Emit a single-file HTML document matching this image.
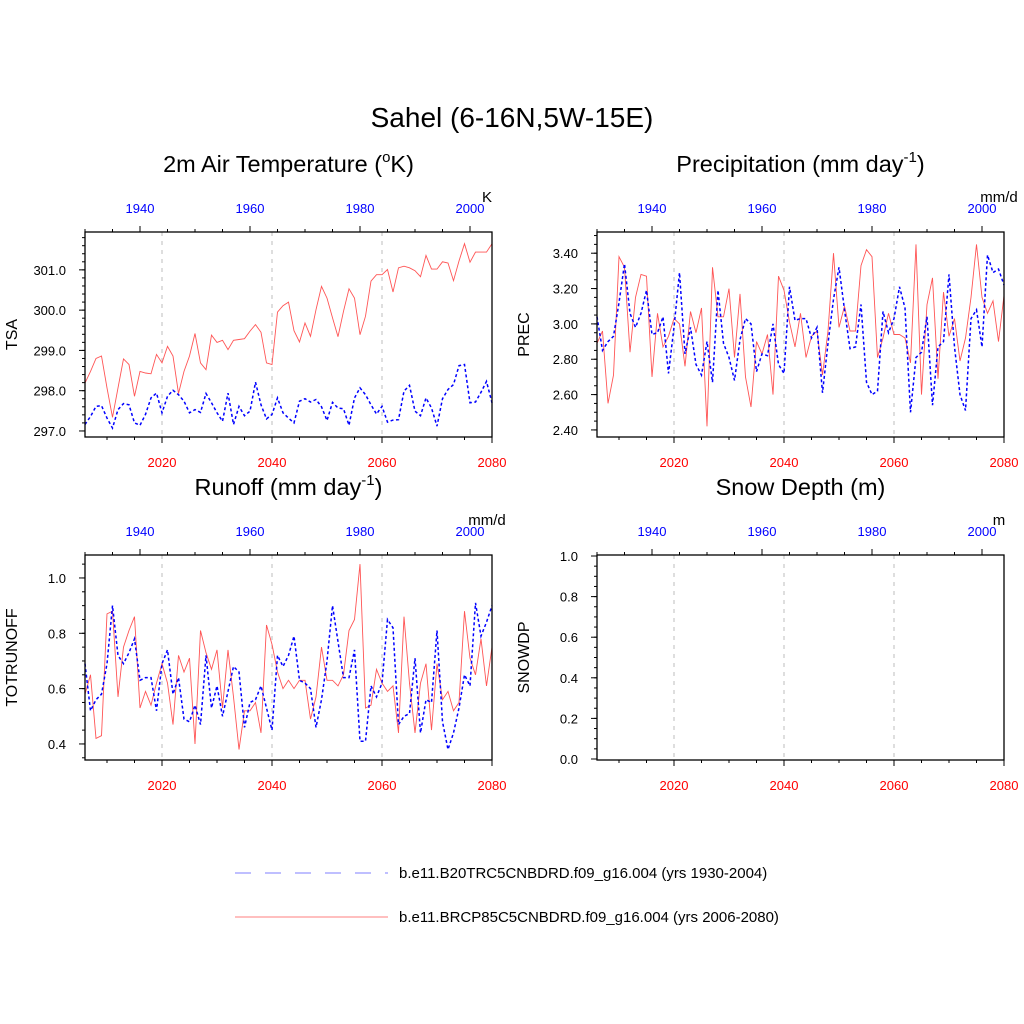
<!DOCTYPE html>
<html><head><meta charset="utf-8"><style>
body{margin:0;background:#fff;}
svg{display:block;font-family:"Liberation Sans",Arial,sans-serif;}
</style></head><body>
<svg id="chart" width="1024" height="1024" viewBox="0 0 1024 1024">
<rect width="1024" height="1024" fill="#fff"/>
<text x="512" y="127" font-size="28" text-anchor="middle">Sahel (6-16N,5W-15E)</text>
<g id="panels"></g>
<g>
<line x1="235" y1="873" x2="388" y2="873" stroke="#9999ff" stroke-width="1.2" stroke-dasharray="16,14"/>
<text x="399" y="878" font-size="15">b.e11.B20TRC5CNBDRD.f09_g16.004 (yrs 1930-2004)</text>
<line x1="235" y1="917" x2="388" y2="917" stroke="#ff9999" stroke-width="1.2"/>
<text x="399" y="922" font-size="15">b.e11.BRCP85C5CNBDRD.f09_g16.004 (yrs 2006-2080)</text>
</g>
</svg>
<script>
const yearsFuture = [];
for (let y = 2006; y <= 2080; y++) yearsFuture.push(y);
const bottomTicks = [2020, 2040, 2060, 2080];
const topTicks = [1940, 1960, 1980, 2000];

const tsaRcp = [298.19,298.48,298.80,298.86,298.07,297.34,298.07,298.79,298.65,297.86,298.48,298.44,298.42,298.90,298.69,299.10,298.86,297.93,298.48,298.86,299.42,298.69,298.52,299.38,299.20,299.25,299.02,299.25,299.27,299.29,299.48,299.64,299.45,298.69,298.65,299.95,300.11,300.20,299.49,299.21,299.68,299.35,300.01,300.59,300.30,299.81,299.34,299.97,300.53,300.30,299.39,299.85,300.72,300.88,300.88,301.01,300.45,301.05,301.09,301.05,300.98,300.83,301.36,301.02,301.02,301.20,301.17,300.73,301.22,301.65,301.19,301.44,301.44,301.44,301.65];
const tsaHist = [297.16,297.36,297.61,297.63,297.32,297.07,297.53,297.68,297.65,297.20,297.14,297.41,297.82,297.94,297.45,297.86,298.01,297.90,297.74,297.45,297.53,297.46,297.93,297.70,297.45,297.24,297.94,297.16,297.61,297.38,297.49,298.21,297.65,297.30,297.41,297.82,297.45,297.32,297.20,297.74,297.80,297.72,297.78,297.60,297.26,297.71,297.57,297.55,297.14,297.82,298.07,297.90,297.65,297.42,297.61,297.22,297.27,297.28,297.99,298.13,297.49,297.38,297.82,297.57,297.12,297.80,298.03,298.15,298.62,298.65,297.70,297.72,297.96,298.23,297.70];
const tsaTicks = [297.0, 298.0, 299.0, 300.0, 301.0];

const precRcp = [2.89,2.96,2.55,2.71,3.38,3.32,2.84,3.15,3.28,3.27,2.70,3.06,2.87,2.93,3.03,3.00,2.76,3.07,2.95,3.09,2.42,3.32,3.04,3.04,3.20,2.81,3.17,2.70,2.53,2.90,2.83,2.94,2.60,3.27,3.19,3.01,2.87,3.06,2.81,2.93,2.96,2.71,2.96,3.40,2.98,3.10,2.96,2.96,3.33,3.42,3.38,2.81,2.92,3.06,2.94,2.94,2.92,2.78,3.45,2.60,3.11,3.26,2.69,3.18,2.93,3.03,2.79,2.92,3.15,3.45,3.15,3.06,3.13,2.90,3.16];
const precHist = [3.04,2.85,2.90,2.93,3.12,3.34,3.06,2.98,3.06,3.19,2.94,2.95,3.04,2.72,2.98,3.29,2.83,2.98,2.77,2.71,2.90,2.67,3.19,2.89,2.81,2.68,2.91,3.03,3.00,2.73,2.83,2.82,3.00,2.77,2.72,3.21,3.02,3.03,3.03,2.92,2.98,2.61,2.89,3.14,3.32,3.08,2.86,2.87,3.11,2.67,2.60,2.62,3.07,2.95,3.03,3.21,3.09,2.50,2.81,2.84,3.04,2.54,2.87,2.90,3.28,2.87,2.60,2.51,3.03,3.08,2.87,3.39,3.29,3.31,3.22];
const precTicks = [2.40, 2.60, 2.80, 3.00, 3.20, 3.40];

const roRcp = [0.58,0.65,0.42,0.43,0.87,0.88,0.57,0.75,0.81,0.86,0.53,0.59,0.54,0.62,0.69,0.62,0.47,0.72,0.66,0.71,0.40,0.81,0.73,0.67,0.74,0.53,0.74,0.57,0.38,0.52,0.52,0.55,0.44,0.83,0.76,0.66,0.60,0.63,0.60,0.63,0.63,0.49,0.57,0.75,0.63,0.63,0.61,0.65,0.81,0.85,1.05,0.53,0.54,0.67,0.62,0.59,0.61,0.44,0.86,0.62,0.44,0.62,0.69,0.45,0.69,0.56,0.59,0.52,0.55,0.88,0.71,0.65,0.78,0.61,0.75];
const roHist = [0.69,0.52,0.56,0.58,0.69,0.90,0.72,0.69,0.73,0.78,0.63,0.64,0.64,0.52,0.69,0.74,0.58,0.64,0.49,0.48,0.54,0.47,0.72,0.53,0.61,0.50,0.59,0.68,0.66,0.46,0.55,0.56,0.61,0.53,0.45,0.72,0.68,0.72,0.79,0.63,0.62,0.60,0.46,0.56,0.70,0.90,0.77,0.64,0.64,0.74,0.41,0.41,0.61,0.57,0.62,0.85,0.82,0.47,0.50,0.51,0.71,0.44,0.56,0.55,0.81,0.48,0.38,0.44,0.53,0.65,0.61,0.91,0.79,0.84,0.90];
const roTicks = [0.4, 0.6, 0.8, 1.0];

const snowTicks = [0.0, 0.2, 0.4, 0.6, 0.8, 1.0];

const NS = "http://www.w3.org/2000/svg";
const root = document.getElementById('panels');
function el(tag, attrs, parent) {
  const e = document.createElementNS(NS, tag);
  for (const k in attrs) e.setAttribute(k, attrs[k]);
  (parent || root).appendChild(e);
  return e;
}

const panels = [
  {key:'tsa', x0:85, y0:232, title:'2m Air Temperature (', sup:'o', after:'K)', unit:'K', ylab:'TSA', ymin:296.85, ymax:301.94, ticks:tsaTicks, minor:0.2, fmt:1, rcp:tsaRcp, hist:tsaHist, titleY:172},
  {key:'prec', x0:597, y0:232, title:'Precipitation (mm day', sup:'-1', after:')', unit:'mm/d', ylab:'PREC', ymin:2.36, ymax:3.52, ticks:precTicks, minor:0.05, fmt:2, rcp:precRcp, hist:precHist, titleY:172},
  {key:'runoff', x0:85, y0:555, title:'Runoff (mm day', sup:'-1', after:')', unit:'mm/d', ylab:'TOTRUNOFF', ymin:0.342, ymax:1.083, ticks:roTicks, minor:0.05, fmt:1, rcp:roRcp, hist:roHist, titleY:495},
  {key:'snow', x0:597, y0:555, title:'Snow Depth (m)', sup:'', after:'', unit:'m', ylab:'SNOWDP', ymin:-0.005, ymax:1.005, ticks:snowTicks, minor:0.05, fmt:1, rcp:null, hist:null, titleY:495}
];
const W = 407, H = 205;

panels.forEach(p => {
  const g = el('g', {});
  
  
  const xB = yr => p.x0 + (yr - 2006) / 74 * W;
  const xT = yr => p.x0 + (yr - 1930) / 74 * W;
  const yS = v => p.y0 + H - (v - p.ymin) / (p.ymax - p.ymin) * H;
  const cx = p.x0 + W / 2;

  const t = el('text', {x:cx, y:p.titleY, 'font-size':23.5, 'text-anchor':'middle'}, g);
  
  
  t.appendChild(document.createTextNode(p.title));
  if (p.sup) {
    const s = el('tspan', {dy:-10, 'font-size':15}, t);
    s.textContent = p.sup;
    const a = el('tspan', {dy:10}, t);
    a.textContent = p.after;
  }
  const u = el('text', {x:p.x0 + W - 5, y:p.y0 - 30, 'font-size':15, 'text-anchor':'middle'}, g);
  
  
  u.textContent = p.unit;

  bottomTicks.slice(0, 3).forEach(yr => {
    const l = el('line', {x1:xB(yr), x2:xB(yr), y1:p.y0, y2:p.y0 + H, stroke:'#c8c8c8', 'stroke-width':1.2, 'stroke-dasharray':'4,5'}, g);
    
    
  });

  const mk = (data, xf, yrs0, color, dash, w, name) => {
    const pts = data.map((v, i) => xf(yrs0 + i).toFixed(1) + ',' + yS(v).toFixed(1)).join(' ');
    const pl = el('polyline', {points:pts, fill:'none', stroke:color, 'stroke-width':w}, g);
    if (dash) pl.setAttribute('stroke-dasharray', dash);
    
    
  };
  if (p.rcp) {
    mk(p.rcp, xB, 2006, '#ff5555', null, 0.9, p.key + '-rcp85-line');
    mk(p.hist, xT, 1930, '#0000ff', '3,2.5', 1.5, p.key + '-historical-line');
  }

  const fr = el('rect', {x:p.x0, y:p.y0, width:W, height:H, fill:'none', stroke:'#000', 'stroke-width':1.3}, g);
  
  

  for (let yr = 2010; yr <= 2080; yr += 5) {
    const maj = yr % 20 === 0;
    el('line', {x1:xB(yr), x2:xB(yr), y1:p.y0 + H, y2:p.y0 + H + (maj ? 6 : 3), stroke:'#000', 'stroke-width':1}, g);
  }
  bottomTicks.forEach(yr => {
    const tl = el('text', {x:xB(yr), y:p.y0 + H + 30, 'font-size':13, fill:'#ff0000', 'text-anchor':'middle'}, g);
    
    
    tl.textContent = yr;
  });
  for (let yr = 1930; yr <= 2004; yr += 5) {
    const maj = yr % 20 === 0;
    el('line', {x1:xT(yr), x2:xT(yr), y1:p.y0, y2:p.y0 - (maj ? 6 : 3), stroke:'#000', 'stroke-width':1}, g);
  }
  topTicks.forEach(yr => {
    const tl = el('text', {x:xT(yr), y:p.y0 - 19, 'font-size':13, fill:'#0000ff', 'text-anchor':'middle'}, g);
    
    
    tl.textContent = yr;
  });
  const mstart = Math.ceil(p.ymin / p.minor - 1e-6);
  for (let k = mstart; k * p.minor <= p.ymax + 1e-9; k++) {
    const v = k * p.minor;
    el('line', {x1:p.x0, x2:p.x0 - 3, y1:yS(v), y2:yS(v), stroke:'#000', 'stroke-width':1}, g);
  }
  p.ticks.forEach(v => {
    el('line', {x1:p.x0, x2:p.x0 - 6, y1:yS(v), y2:yS(v), stroke:'#000', 'stroke-width':1}, g);
    const tl = el('text', {x:p.x0 - 19, y:yS(v) + 5, 'font-size':13, 'text-anchor':'end'}, g);
    
    
    tl.textContent = v.toFixed(p.fmt);
  });
  const yl = el('text', {x:0, y:0, 'font-size':16, 'text-anchor':'middle', transform:'translate(' + (p.x0 - 68) + ',' + (p.y0 + H / 2) + ') rotate(-90)'}, g);
  
  
  yl.textContent = p.ylab;
});
</script>
</body></html>
